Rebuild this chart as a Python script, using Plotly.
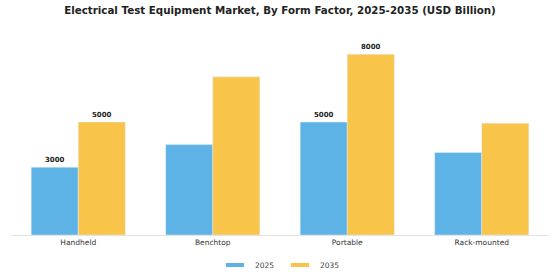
import plotly.graph_objects as go

categories = ["Handheld", "Benchtop", "Portable", "Rack-mounted"]
values_2025 = [3000, 4000, 5000, 3650]
values_2035 = [5000, 7000, 8000, 4950]
labels_2025 = ["3000", "", "5000", ""]
labels_2035 = ["5000", "", "8000", ""]
series_names = ["2025", "2035"]
series_colors = ["#5DB3E6", "#F8C44A"]

label_font = dict(size=7, color="#222", family="DejaVu Sans", weight="bold")

fig = go.Figure()
for name, vals, labs, col in zip(series_names, [values_2025, values_2035],
                                 [labels_2025, labels_2035], series_colors):
    fig.add_trace(go.Bar(name=name, x=categories, y=vals, marker_color=col,
                         text=labs, textposition="outside", cliponaxis=False,
                         textfont=label_font, showlegend=False, legendgroup=name))
# legend entries drawn as short thick strips
for name, col in zip(series_names, series_colors):
    fig.add_trace(go.Scatter(name=name, x=[None], y=[None], mode="markers",
                             marker=dict(symbol="line-ew-open", size=13, color=col,
                                         line=dict(color=col, width=4)),
                             legendgroup=name, showlegend=True))

fig.update_layout(
    width=560, height=280,
    margin=dict(l=11, r=11, t=40, b=45, autoexpand=False),
    paper_bgcolor="white", plot_bgcolor="white",
    barmode="group", bargap=0.3, bargroupgap=0,
    title=dict(text="<b>Electrical Test Equipment Market, By Form Factor, 2025-2035 (USD Billion)</b>",
               x=0.5, xanchor="center", y=0.962, yanchor="middle",
               font=dict(size=10.3, color="#222", family="DejaVu Sans")),
    showlegend=True,
    legend=dict(orientation="h", x=0.5, xanchor="center", xref="container",
                y=0.054, yref="container", yanchor="middle",
                entrywidth=20, entrywidthmode="pixels",
                font=dict(size=7.5, color="#444", family="DejaVu Sans")),
    uniformtext=dict(minsize=6, mode="show"),
)
fig.update_xaxes(showline=True, linecolor="#e2e2e2", linewidth=1, ticks="",
                 tickfont=dict(size=7.5, color="#333", family="DejaVu Sans"))
fig.update_yaxes(visible=False, range=[0, 8630], showgrid=False)

fig.write_html("out.html")
